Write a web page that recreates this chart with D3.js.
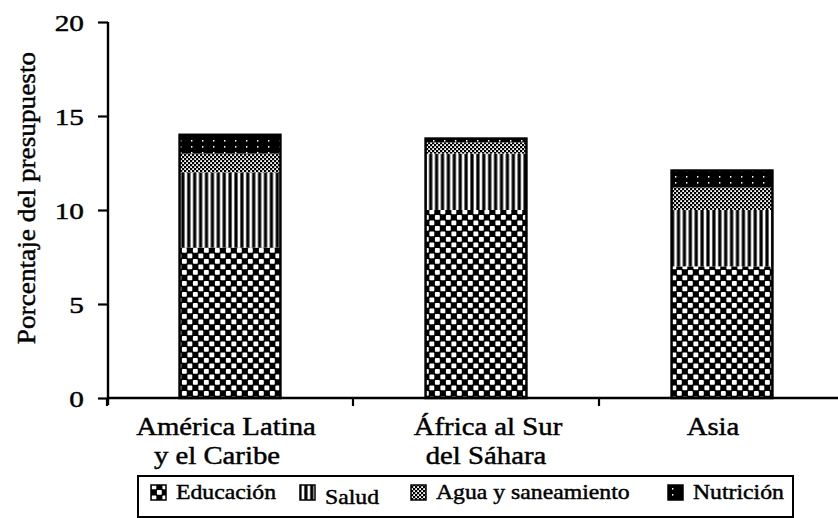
<!DOCTYPE html>
<html>
<head>
<meta charset="utf-8">
<script src="https://cdn.jsdelivr.net/npm/d3@7"></script>
<style>
html,body{margin:0;padding:0;background:#fff;}
svg{display:block;}
text{font-family:"Liberation Serif","Times New Roman",Times,serif;fill:#000;stroke:#000;stroke-width:0.45px;}
</style>
</head>
<body>
<div id="chart"></div>
<script>
// ---- data ----
const categories = [["América Latina","y el Caribe"],["África al Sur","del Sáhara"],["Asia"]];
const seriesNames = ["Educación","Salud","Agua y saneamiento","Nutrición"];
const educacion = [8, 10, 7];
const salud = [4, 3, 3];
const agua = [1, 0.6, 1.2];
const nutricion = [1, 0.2, 0.9];
const yTicks = [0, 5, 10, 15, 20];
const yLabel = "Porcentaje del presupuesto";

const W = 838, H = 518;
const svg = d3.select("#chart").append("svg").attr("width", W).attr("height", H);

// patterns
const defs = svg.append("defs");
const pEdu = defs.append("pattern").attr("id","p0").attr("patternUnits","userSpaceOnUse").attr("width",11).attr("height",11);
pEdu.append("rect").attr("width",11).attr("height",11).attr("fill","#000");
pEdu.append("rect").attr("x",0.4).attr("y",0.4).attr("width",4.9).attr("height",4.9).attr("rx",1).attr("fill","#fff");
pEdu.append("rect").attr("x",5.9).attr("y",5.9).attr("width",4.9).attr("height",4.9).attr("rx",1).attr("fill","#fff");

const pSal = defs.append("pattern").attr("id","p1").attr("patternUnits","userSpaceOnUse").attr("width",5.9).attr("height",10);
pSal.append("rect").attr("width",5.9).attr("height",10).attr("fill","#000");
pSal.append("rect").attr("x",1.6).attr("y",0).attr("width",2.7).attr("height",10).attr("fill","#fff");

const pAg = defs.append("pattern").attr("id","p2").attr("patternUnits","userSpaceOnUse").attr("width",4).attr("height",4);
pAg.append("rect").attr("width",4).attr("height",4).attr("fill","#000");
pAg.append("rect").attr("x",0.2).attr("y",0.2).attr("width",1.8).attr("height",1.8).attr("fill","#fff");
pAg.append("rect").attr("x",2.2).attr("y",2.2).attr("width",1.8).attr("height",1.8).attr("fill","#fff");

const pNu = defs.append("pattern").attr("id","p3").attr("patternUnits","userSpaceOnUse").attr("width",11).attr("height",6);
pNu.append("rect").attr("width",11).attr("height",6).attr("fill","#000");
pNu.append("rect").attr("x",4).attr("y",2).attr("width",1.4).attr("height",1.6).attr("fill","#fff");

const fills = ["url(#p0)","url(#p1)","url(#p2)","url(#p3)"];

// scales
const x = d3.scaleBand().domain(d3.range(categories.length)).range([107, 845]).paddingInner(0).paddingOuter(0);
const y = d3.scaleLinear().domain([0, 20]).range([398, 22]);

const rows = categories.map((c, i) => ({i, v:[educacion[i], salud[i], agua[i], nutricion[i]]}));
const stack = d3.stack().keys([0,1,2,3]).value((d,k) => d.v[k]);
const stacked = stack(rows);

const barW = x.bandwidth() * 0.41;

// bars
const layers = svg.append("g").selectAll("g").data(stacked).join("g").attr("fill", (d,k) => fills[k]);
layers.selectAll("rect").data(d => d).join("rect")
  .attr("x", d => x(d.data.i) + x.bandwidth()/2 - barW/2)
  .attr("y", d => y(d[1]))
  .attr("width", barW)
  .attr("height", d => y(d[0]) - y(d[1]));

// bar outlines
svg.append("g").selectAll("rect").data(rows).join("rect")
  .attr("x", d => x(d.i) + x.bandwidth()/2 - barW/2)
  .attr("y", d => y(d3.sum(d.v)))
  .attr("width", barW)
  .attr("height", d => y(0) - y(d3.sum(d.v)))
  .attr("fill", "none").attr("stroke", "#000").attr("stroke-width", 2.5);

// y axis
const yAxis = svg.append("g").attr("transform", "translate(108,0)")
  .call(d3.axisLeft(y).tickValues(yTicks).tickSize(10).tickPadding(14).tickFormat(d3.format("d")));
yAxis.select(".domain").attr("stroke-width", 2.4).attr("d", `M0,${y(20)}V${y(0)+7}`);
yAxis.selectAll(".tick line").attr("stroke-width", 2.2);
yAxis.selectAll(".tick text").each(function(){
  const t = d3.select(this);
  const xx = +t.attr("x");
  t.attr("x", null).attr("dy", null)
   .attr("transform", `translate(${xx},8) scale(1.22,1)`)
   .style("font-size","24px");
});

// x axis
const xAxisG = svg.append("g");
xAxisG.append("line").attr("x1", 107).attr("x2", 845).attr("y1", y(0)).attr("y2", y(0)).attr("stroke","#000").attr("stroke-width",2.4);
xAxisG.selectAll("line.tk").data(d3.range(categories.length)).join("line").attr("class","tk")
  .attr("x1", d => x(d)).attr("x2", d => x(d))
  .attr("y1", y(0)).attr("y2", y(0) + 8).attr("stroke","#000").attr("stroke-width",2.2);

const labelShift = [[-4,-13],[12,10],[-9]];
const lbl = svg.append("g").selectAll("g").data(categories).join("g");
lbl.each(function(lines, i){
  const g = d3.select(this);
  lines.forEach((ln, j) => {
    g.append("text")
      .attr("transform", `translate(${x(i) + x.bandwidth()/2 + labelShift[i][j]},${435 + j*29}) scale(1.15,1)`)
      .attr("text-anchor","middle").style("font-size","25px").text(ln);
  });
});

// y label
svg.append("text")
  .attr("transform", "translate(35,198) rotate(-90) scale(1.05,1)")
  .attr("text-anchor","middle").style("font-size","26px").text(yLabel);

// legend
const leg = svg.append("g");
leg.append("rect").attr("x",138).attr("y",476).attr("width",655).attr("height",41)
  .attr("fill","none").attr("stroke","#000").attr("stroke-width",2);
const legX = [151, 300, 411, 668];
const legDy = [0, 5, 0, 0];
const li = leg.selectAll("g").data(seriesNames).join("g")
  .attr("transform", (d,k) => `translate(${legX[k]},0)`);
li.append("rect").attr("x",0).attr("y",485).attr("width",15).attr("height",15)
  .attr("fill",(d,k)=>fills[k]).attr("stroke","#000").attr("stroke-width",1.5);
li.append("text")
  .attr("transform",(d,k)=>`translate(25,${499+legDy[k]}) scale(1.13,1)`)
  .style("font-size","21px").text(d => d);
</script>
</body>
</html>
